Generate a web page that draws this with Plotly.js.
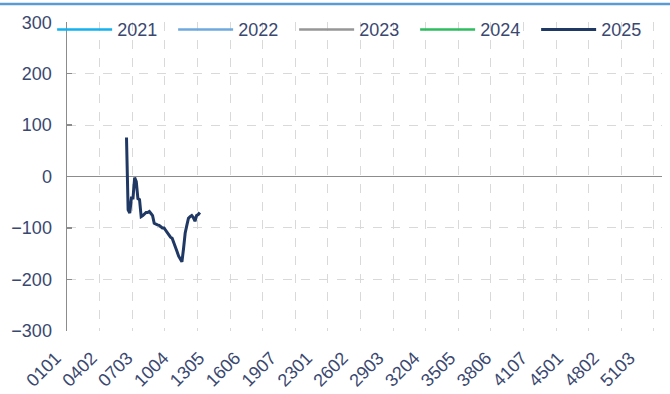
<!DOCTYPE html>
<html>
<head>
<meta charset="utf-8">
<script src="https://cdn.plot.ly/plotly-3.0.1.min.js"></script>
<style>html,body{margin:0;padding:0;background:#fff;}#chart{width:670px;height:394px;}</style>
</head>
<body>
<div id="chart"></div>
<script>
// legend series names
const seriesNames = ['2021', '2022', '2023', '2024', '2025'];
const seriesColors = ['#12B2EE', '#6FA8DC', '#969696', '#2EBD5E', '#203864'];

// x tick labels (week+day codes)
const tickLabels = ['0101','0402','0703','1004','1305','1606','1907','2301','2602','2903','3204','3505','3806','4107','4501','4802','5103'];

// 2025 series (only one with visible data)
const x2025 = ['0602','0603','0604','0605','0606','0607','0701','0702','0703','0704','0705','0706','0707',
  '0801','0802','0803','0804','0805','0806','0807','0901','0902','0903','0904','0905','0906','0907',
  '1001','1002','1003','1004','1005','1006','1007','1101','1102','1103','1104','1105','1106','1107',
  '1201','1202','1203','1204','1205'];
const y2025 = [76,-65,-71,-42,-42,-2,-10,-43,-45,-78,-76,-72,-70,
  -70,-68,-72,-76,-91,-93,-94,-95,-97,-100,-100,-105,-110,-113,
  -118,-120,-128,-135,-146,-155,-160,-166,-140,-110,-95,-81,-78,-76,
  -80,-87,-76,-74,-70];

// full day list: week 01..53, day 1..7, 365 days
const days = [];
for (let w = 1; w <= 53; w++) {
  for (let d = 1; d <= 7; d++) {
    if (days.length < 365) days.push(String(w).padStart(2, '0') + String(d).padStart(2, '0'));
  }
}
const idx = l => days.indexOf(l);

const txtColor = '#3A4870';
const font = {family: 'Liberation Sans, Arial, sans-serif', size: 18, color: txtColor};

const traces = seriesNames.map((n, i) => {
  const isLast = n === '2025';
  return {
    type: 'scatter', mode: 'lines', name: n,
    x: isLast ? x2025.map(idx) : [null],
    y: isLast ? y2025 : [null],
    line: {color: seriesColors[i], width: isLast ? 3 : 2.5},
    hoverinfo: 'skip'
  };
});

const layout = {
  width: 670, height: 394,
  margin: {l: 67, r: 8, t: 22, b: 63},
  paper_bgcolor: '#fff', plot_bgcolor: '#fff',
  font: font,
  showlegend: true,
  legend: {
    orientation: 'h', x: -0.025, xanchor: 'left', y: 1.035, yanchor: 'top',
    bgcolor: 'rgba(0,0,0,0)', font: font,
    itemwidth: 55, entrywidth: 51, entrywidthmode: 'pixels',
    tracegroupgap: 0, itemclick: false
  },
  xaxis: {
    range: [-0.5, 364.5], type: 'linear',
    tickmode: 'array', tickvals: tickLabels.map(idx), ticktext: tickLabels,
    tickangle: -45, tickfont: font, ticks: '', ticklabelstandoff: 12, ticklabelshift: -12,
    showgrid: false, zeroline: false, showline: false,
    minor: {tickmode: 'linear', tick0: -0.5, dtick: 20, showgrid: true, gridcolor: '#D9D9D9', griddash: 'dash', gridwidth: 1, ticks: ''}
  },
  yaxis: {
    range: [-300.5, 300.5], tickmode: 'linear', tick0: -300, dtick: 100,
    tickfont: font, ticks: 'inside', ticklen: 5, tickcolor: '#8C8C8C', tickwidth: 1.5,
    showline: true, linecolor: '#8C8C8C', linewidth: 1.5,
    showgrid: true, gridcolor: '#D9D9D9', griddash: 'dash', gridwidth: 1,
    zeroline: true, zerolinecolor: '#8C8C8C', zerolinewidth: 1.5,
    ticklabelstandoff: 10
  },
  shapes: [{
    type: 'line', xref: 'paper', yref: 'paper',
    x0: -0.12, x1: 1.02, y0: 1.058, y1: 1.058,
    line: {color: '#5B9BD5', width: 2.5}
  }]
};

Plotly.newPlot('chart', traces, layout, {staticPlot: true, displayModeBar: false});
</script>
</body>
</html>
